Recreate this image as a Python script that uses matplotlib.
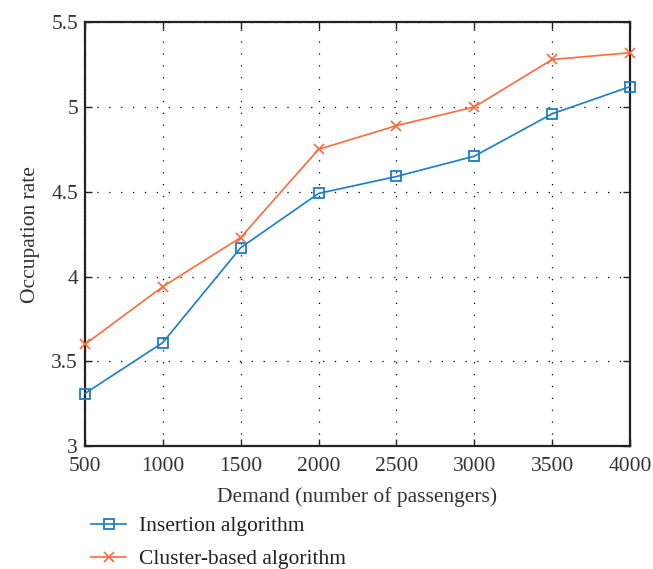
import matplotlib
matplotlib.use('Agg')
import matplotlib.pyplot as plt

plt.rcParams.update({
    'font.family': ['Liberation Serif', 'DejaVu Serif'],
    'font.size': 15.5,
})

# data
demand = [500, 1000, 1500, 2000, 2500, 3000, 3500, 4000]
insertion = [3.31, 3.61, 4.17, 4.49, 4.59, 4.71, 4.96, 5.12]
cluster = [3.60, 3.94, 4.23, 4.75, 4.89, 5.00, 5.28, 5.32]
y_ticks = [3, 3.5, 4, 4.5, 5, 5.5]
y_labels = ['3', '3.5', '4', '4.5', '5', '5.5']

BLUE = '#1a7dc6'
ORANGE = '#fd6b3c'

fig = plt.figure(figsize=(6.53, 5.69), dpi=100)
ax = fig.add_axes([0.130, 0.216, 0.835, 0.745])

ax.plot(demand, insertion, color=BLUE, lw=1.2, marker='s', ms=7,
        mfc='none', mec=BLUE, mew=1.3, label='Insertion algorithm',
        zorder=3, clip_on=False)
ax.plot(demand, cluster, color=ORANGE, lw=1.2, marker='x', ms=7,
        mew=1.2, label='Cluster-based algorithm', zorder=3, clip_on=False)

ax.set_xlim(500, 4000)
ax.set_ylim(3, 5.5)
ax.set_xticks(demand)
ax.set_yticks(y_ticks)
ax.set_yticklabels(y_labels)
ax.grid(True, color='black', ls=(0, (1, 8.5)), lw=0.9)
ax.tick_params(direction='in', top=True, right=True, length=5, width=1,
               colors='#222222', labelcolor='#333333', labelsize=15.5)
ax.tick_params(axis='x', pad=8)
ax.tick_params(axis='y', pad=5)
for sp in ax.spines.values():
    sp.set_linewidth(1.6)
    sp.set_color('#222222')

ax.set_xlabel('Demand (number of passengers)', color='#333333', labelpad=8)
ax.set_ylabel('Occupation rate', color='#333333', labelpad=8)

ax.legend(loc='upper left', bbox_to_anchor=(-0.004, -0.145), frameon=False,
          handlelength=1.6, handletextpad=0.6, labelspacing=0.6,
          borderaxespad=0, labelcolor='#222222')

fig.savefig('out.png', dpi=100)
